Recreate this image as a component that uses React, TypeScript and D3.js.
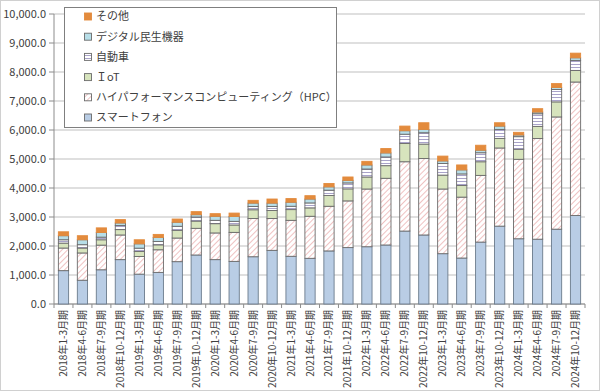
import React from "react";
import * as d3 from "d3";

const categories = [
  "2018年1-3月期","2018年4-6月期","2018年7-9月期","2018年10-12月期",
  "2019年1-3月期","2019年4-6月期","2019年7-9月期","2019年10-12月期",
  "2020年1-3月期","2020年4-6月期","2020年7-9月期","2020年10-12月期",
  "2021年1-3月期","2021年4-6月期","2021年7-9月期","2021年10-12月期",
  "2022年1-3月期","2022年4-6月期","2022年7-9月期","2022年10-12月期",
  "2023年1-3月期","2023年4-6月期","2023年7-9月期","2023年10-12月期",
  "2024年1-3月期","2024年4-6月期","2024年7-9月期","2024年10-12月期",
];

const smartphone = [1150,820,1180,1530,1030,1090,1460,1690,1530,1470,1630,1850,1645,1575,1830,1945,1975,2035,2515,2380,1735,1585,2135,2685,2250,2235,2580,3050];
const hpc = [780,940,850,850,610,780,815,920,920,1000,1320,1100,1240,1450,1540,1610,1990,2300,2390,2635,2230,2100,2300,2695,2740,3470,3870,4605];
const iot = [170,170,185,185,170,170,265,250,320,255,300,275,370,290,370,415,415,435,630,500,480,400,470,330,345,420,520,400];
const auto = [115,115,90,140,115,115,140,140,115,125,115,140,115,170,185,205,275,300,320,390,400,400,310,310,435,435,425,345];
const digital = [140,170,160,90,150,140,140,80,140,170,115,115,140,135,115,90,140,140,120,115,90,140,90,115,60,60,70,90];
const other = [135,140,160,115,140,105,110,105,90,115,95,140,125,115,115,115,125,150,160,230,165,170,170,115,90,115,135,160];

const seriesNames = ["スマートフォン","ハイパフォーマンスコンピューティング（HPC）","ＩoT","自動車","デジタル民生機器","その他"];
const seriesData = [smartphone, hpc, iot, auto, digital, other];
const yTicks = [0,1000,2000,3000,4000,5000,6000,7000,8000,9000,10000];

const fills = ["#b9cde5", "url(#hatchHpc)", "#d7e4bd", "url(#hlineAuto)", "#b7dee8", "#e38b3d"];
const strokes = ["#6b7b8c", "#6b6b6b", "#6b6b6b", "#6b6b6b", "#6b6b6b", "#e38b3d"];

export default function App() {
  const W = 600, H = 391;
  const left = 54, right = 585, top = 14, bottom = 304;
  const x = d3.scaleBand<string>().domain(categories).range([left, right]).paddingInner(0.46).paddingOuter(0.23);
  const y = d3.scaleLinear().domain([0, 10000]).range([bottom, top]);

  const rows = categories.map((c, i) => {
    const r: any = { cat: c };
    seriesData.forEach((s, k) => (r["s" + k] = s[i]));
    return r;
  });
  const stack = d3.stack().keys(seriesData.map((_, k) => "s" + k))(rows);
  const fmt = d3.format(",.1f");
  const step = (right - left) / categories.length;
  const font = "'Noto Sans CJK JP', 'Noto Sans', sans-serif";

  const legendOrder = [5, 4, 3, 2, 1, 0];

  return (
    <svg width={W} height={H} style={{ position: "absolute", left: 0, top: 0 }} fontFamily={font}>
      <defs>
        <pattern id="hatchHpc" patternUnits="userSpaceOnUse" width="4" height="4" patternTransform="rotate(45)">
          <rect width="4" height="4" fill="#ffffff" />
          <line x1="0" y1="0" x2="0" y2="4" stroke="#e8a8a8" strokeWidth="1.4" />
        </pattern>
        <pattern id="hlineAuto" patternUnits="userSpaceOnUse" width="4" height="3">
          <rect width="4" height="3" fill="#ffffff" />
          <line x1="0" y1="1.5" x2="4" y2="1.5" stroke="#a9a3c9" strokeWidth="1" />
        </pattern>
      </defs>
      <rect x={0.5} y={0.5} width={W - 1} height={H - 1} fill="#fff" stroke="#d0d0d0" />
      {yTicks.map((t) => (
        <line key={t} x1={left} x2={right} y1={y(t)} y2={y(t)} stroke="#bfbfbf" strokeWidth={1} />
      ))}
      <line x1={left} x2={left} y1={top} y2={bottom} stroke="#8c8c8c" />
      {yTicks.map((t) => (
        <g key={"yl" + t}>
          <line x1={left - 5} x2={left} y1={y(t)} y2={y(t)} stroke="#8c8c8c" />
          <text x={left - 8} y={y(t)} dy="0.35em" textAnchor="end" fontSize={11} fill="#404040">{fmt(t)}</text>
        </g>
      ))}
      <line x1={left} x2={right} y1={bottom} y2={bottom} stroke="#8c8c8c" />
      {d3.range(categories.length + 1).map((i) => (
        <line key={"xt" + i} x1={left + i * step} x2={left + i * step} y1={bottom} y2={bottom + 4} stroke="#8c8c8c" />
      ))}
      {stack.map((layer, k) => (
        <g key={"layer" + k}>
          {layer.map((d, i) => (
            <rect
              key={i}
              x={x(categories[i])}
              width={x.bandwidth()}
              y={y(d[1])}
              height={Math.max(0, y(d[0]) - y(d[1]))}
              fill={fills[k]}
              stroke={strokes[k]}
              strokeWidth={0.9}
            />
          ))}
        </g>
      ))}
      {categories.map((c) => {
        const cx = (x(c) as number) + x.bandwidth() / 2;
        return (
          <text key={"xl" + c} transform={`translate(${cx + 3.5},${bottom + 6}) rotate(-90)`} textAnchor="end" fontSize={10} fill="#404040">{c}</text>
        );
      })}
      <rect x={64.5} y={7.5} width={272} height={120} fill="#ffffff" stroke="#7f7f7f" />
      {legendOrder.map((k, j) => {
        const ly = 16.5 + j * 20.2;
        return (
          <g key={"lg" + k}>
            <rect x={84.5} y={ly - 3.5} width={7} height={7} fill={fills[k]} stroke={k === 5 ? "#e38b3d" : "#6b6b6b"} strokeWidth={0.9} />
            <text x={96} y={ly} dy="0.36em" fontSize={11} fill="#404040">{seriesNames[k]}</text>
          </g>
        );
      })}
    </svg>
  );
}
